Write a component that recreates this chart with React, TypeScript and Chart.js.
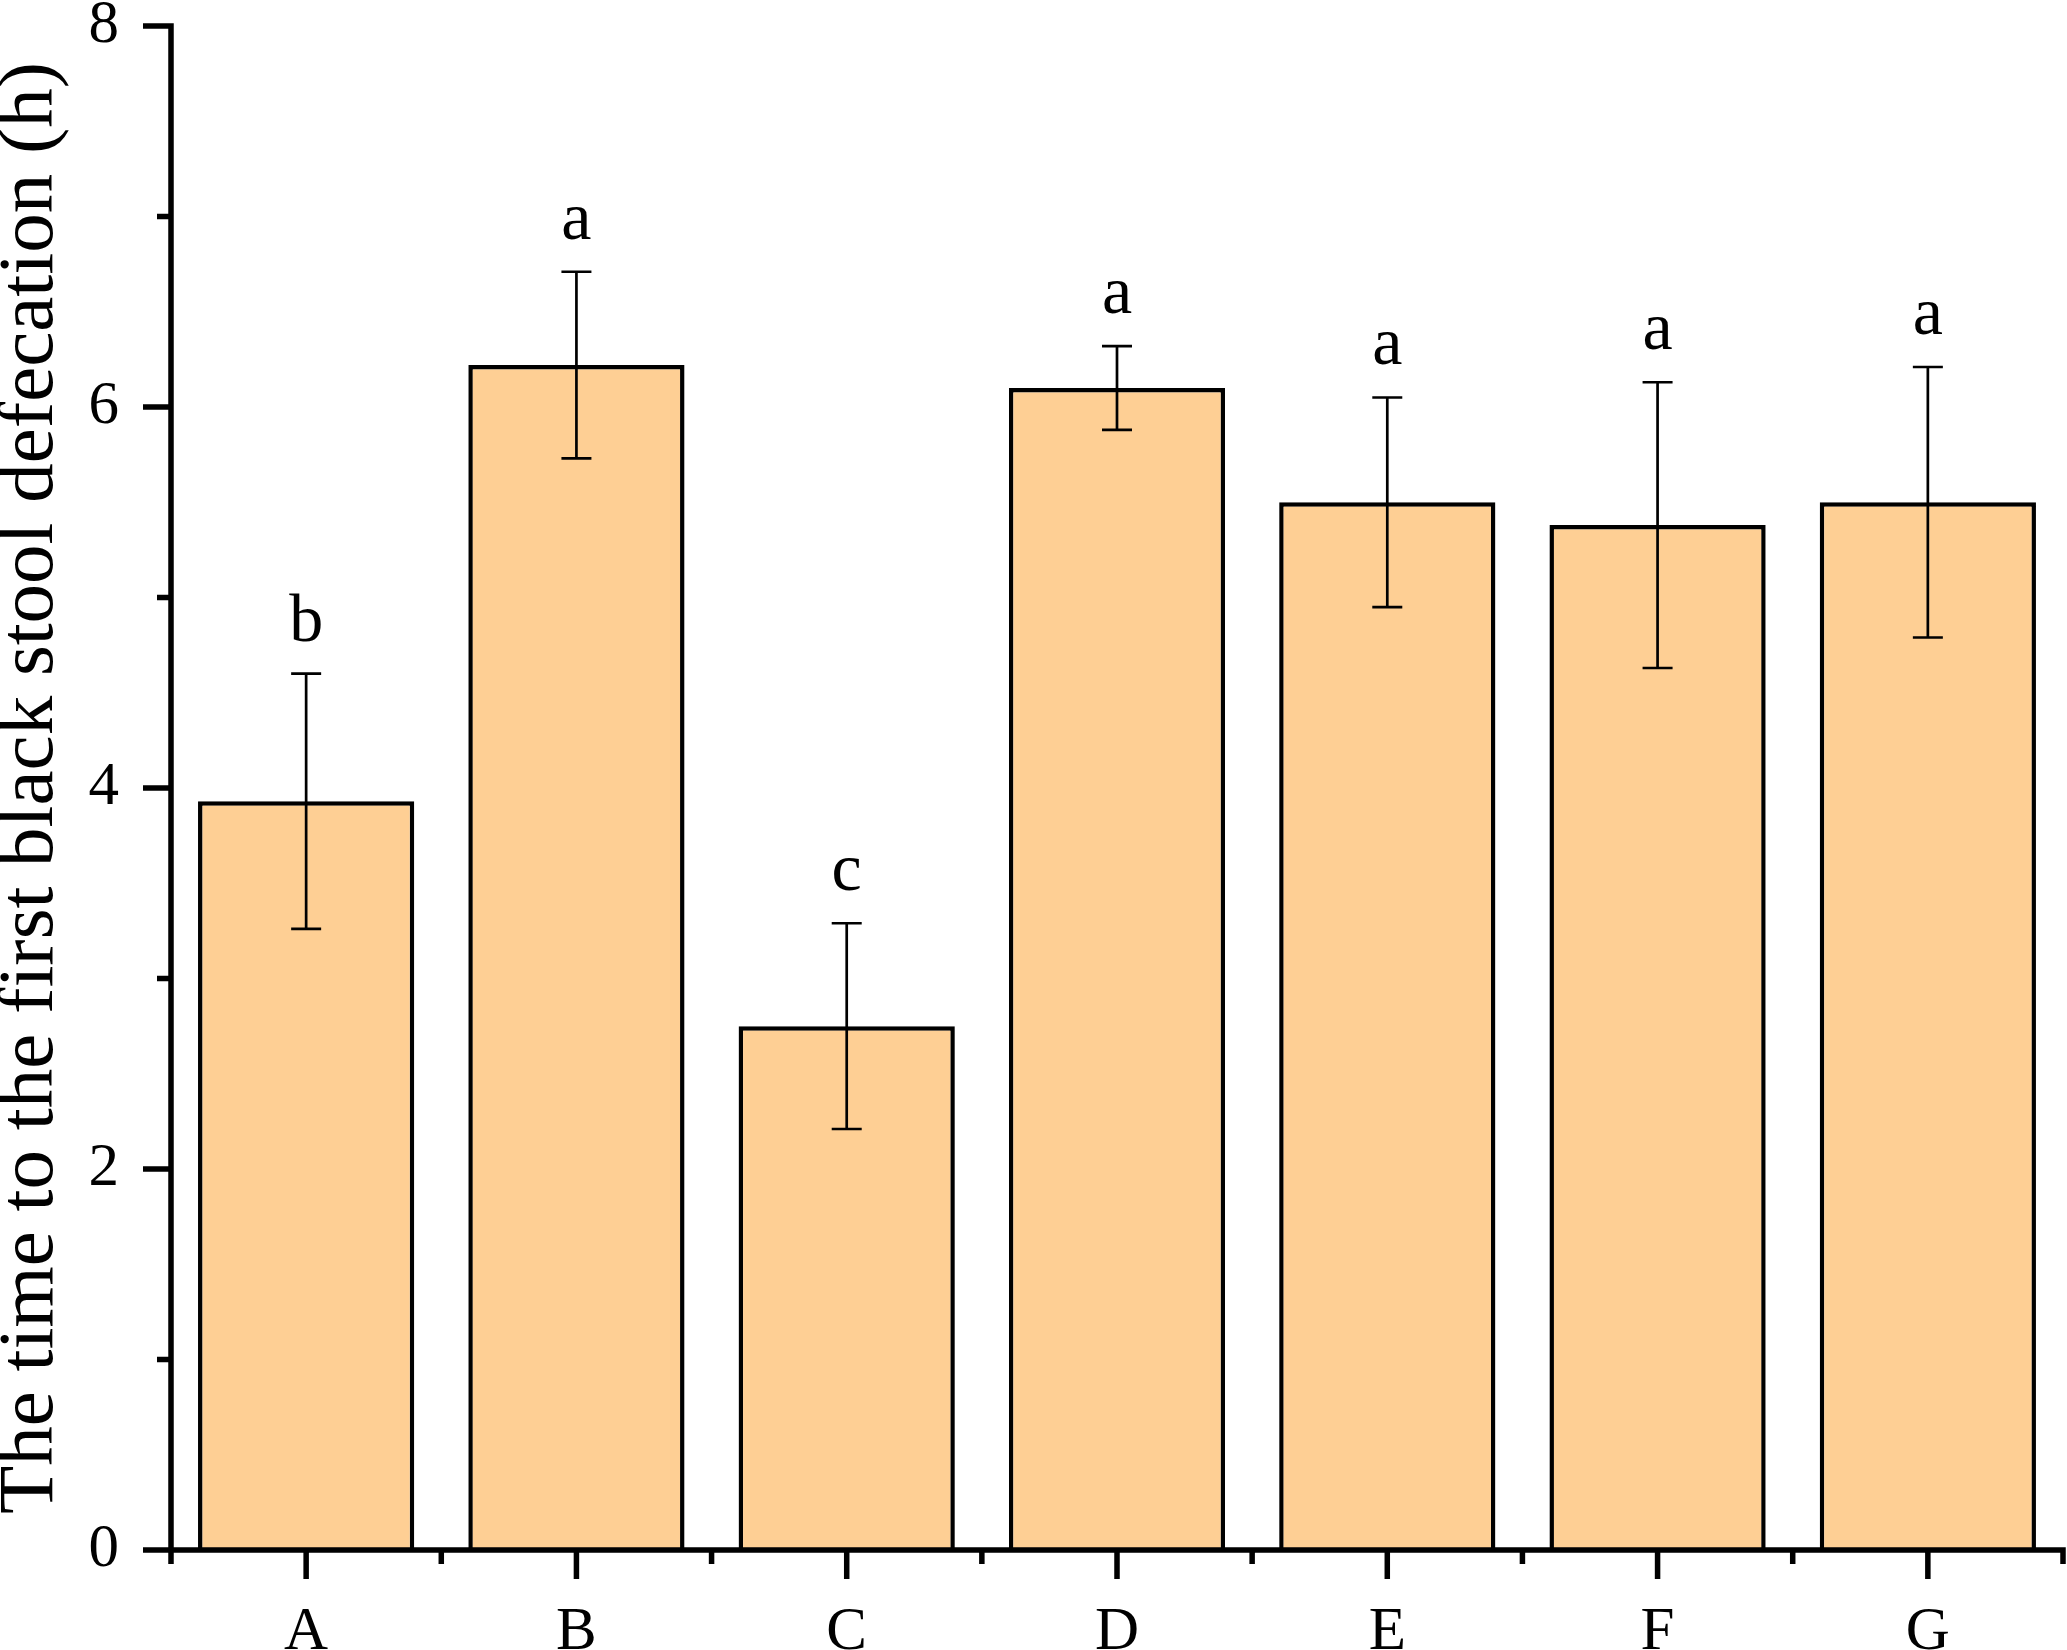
import React, { useEffect, useRef } from "react";
import { Chart, registerables } from "chart.js";

Chart.register(...registerables);

const categories = ["A", "B", "C", "D", "E", "F", "G"];
const means = [3.93, 6.22, 2.75, 6.1, 5.5, 5.38, 5.5];
const errors = [0.67, 0.49, 0.54, 0.22, 0.55, 0.75, 0.71];
const sigLetters = ["b", "a", "c", "a", "a", "a", "a"];
const yMajorTicks = [0, 2, 4, 6, 8];
const yMinorTicks = [1, 3, 5, 7];
const yTitle = "The time to the first black stool defecation (h)";

const FONT = "'Liberation Serif', 'Times New Roman', serif";

const decorPlugin = {
  id: "decor",
  afterDatasetsDraw(chart: any) {
    const ctx = chart.ctx;
    const xs = chart.scales.x;
    const ys = chart.scales.y;
    const meta = chart.getDatasetMeta(0);
    const area = chart.chartArea;
    ctx.save();
    // error bars
    ctx.strokeStyle = "#000";
    ctx.lineWidth = 2.7;
    meta.data.forEach((el: any, i: number) => {
      const x = el.x;
      const yTop = ys.getPixelForValue(means[i] + errors[i]);
      const yBot = ys.getPixelForValue(means[i] - errors[i]);
      ctx.beginPath();
      ctx.moveTo(x, yTop);
      ctx.lineTo(x, yBot);
      ctx.moveTo(x - 15, yTop);
      ctx.lineTo(x + 15, yTop);
      ctx.moveTo(x - 15, yBot);
      ctx.lineTo(x + 15, yBot);
      ctx.stroke();
      // letters
      ctx.fillStyle = "#000";
      ctx.font = `68px ${FONT}`;
      ctx.textAlign = "center";
      ctx.textBaseline = "alphabetic";
      ctx.fillText(sigLetters[i], x, yTop - 33);
    });
    // axes
    ctx.lineWidth = 5.5;
    ctx.lineCap = "butt";
    const left = area.left;
    const bottom = area.bottom;
    ctx.beginPath();
    ctx.moveTo(left, ys.getPixelForValue(8) - 2.75);
    ctx.lineTo(left, bottom);
    ctx.moveTo(left, bottom);
    ctx.lineTo(xs.getPixelForValue(categories.length - 0.5) + 2.75, bottom);
    yMajorTicks.forEach((v) => {
      const y = ys.getPixelForValue(v);
      ctx.moveTo(left - 28, y);
      ctx.lineTo(left, y);
    });
    yMinorTicks.forEach((v) => {
      const y = ys.getPixelForValue(v);
      ctx.moveTo(left - 14, y);
      ctx.lineTo(left, y);
    });
    categories.forEach((_, i) => {
      const x = xs.getPixelForValue(i);
      ctx.moveTo(x, bottom);
      ctx.lineTo(x, bottom + 29);
    });
    for (let i = 0; i <= categories.length; i++) {
      const x = xs.getPixelForValue(i - 0.5);
      ctx.moveTo(x, bottom);
      ctx.lineTo(x, bottom + 14);
    }
    ctx.stroke();
    ctx.restore();
  },
};

export default function App() {
  const ref = useRef<HTMLCanvasElement>(null);
  useEffect(() => {
    document.body.style.margin = "0";
    const canvas = ref.current!;
    const chart = new Chart(canvas, {
      type: "bar",
      data: {
        labels: categories,
        datasets: [
          {
            data: means,
            backgroundColor: "#FECF94",
            borderColor: "#000",
            borderWidth: 4.5,
            barPercentage: 0.8,
            categoryPercentage: 1.0,
          },
        ],
      },
      options: {
        responsive: false,
        devicePixelRatio: 1,
        animation: false,
        layout: { padding: { top: 26, right: 4, left: 0, bottom: 0 } },
        plugins: { legend: { display: false }, tooltip: { enabled: false } },
        scales: {
          x: {
            type: "category",
            offset: true,
            grid: { display: false, drawTicks: false },
            border: { display: false },
            ticks: {
              color: "#000",
              font: { family: FONT, size: 61 },
              padding: 46,
              maxRotation: 0,
            },
            afterFit: (s: any) => {
              s.height = 100;
              s.paddingLeft = 0;
              s.paddingRight = 0;
            },
          },
          y: {
            min: 0,
            max: 8,
            grid: { display: false, drawTicks: false },
            border: { display: false },
            afterBuildTicks: (s: any) => {
              s.ticks = yMajorTicks.map((v) => ({ value: v }));
            },
            ticks: {
              color: "#000",
              font: { family: FONT, size: 61 },
              padding: 52,
            },
            title: {
              display: true,
              text: yTitle,
              color: "#000",
              font: { family: FONT, size: 79, lineHeight: 0.8 },
              padding: 0,
            },
            afterFit: (s: any) => {
              s.width = 171;
              s.paddingTop = 0;
              s.paddingBottom = 0;
            },
          },
        },
      },
      plugins: [decorPlugin],
    });
    return () => chart.destroy();
  }, []);
  return (
    <div style={{ width: 2067, height: 1650 }}>
      <canvas ref={ref} width={2067} height={1650} style={{ display: "block" }} />
    </div>
  );
}
